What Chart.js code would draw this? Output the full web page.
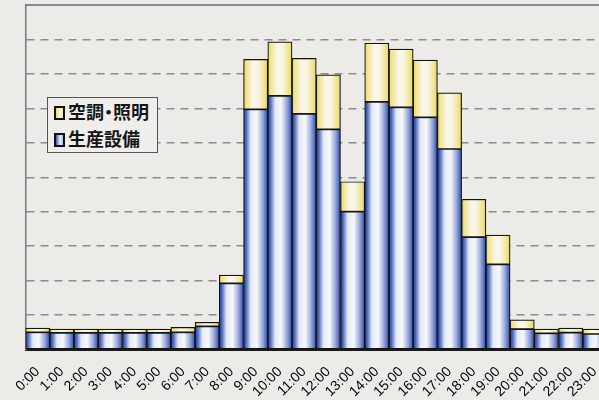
<!DOCTYPE html>
<html>
<head>
<meta charset="utf-8">
<script src="https://cdn.jsdelivr.net/npm/chart.js@4"></script>
<style>
    html, body { margin: 0; padding: 0; overflow: hidden; background: #ecebe7; }
    #wrap { position: relative; width: 607px; height: 400px; }
    #legend {
        position: absolute; left: 47px; top: 97px; width: 103px; height: 54px;
        background: #efeeea; border: 1.5px solid #555;
        font-family: "Noto Sans CJK JP", sans-serif; font-size: 18px; font-weight: bold;
        color: #151515; line-height: 27px; padding-left: 6px;
    }
    #legend .row { height: 27px; white-space: nowrap; }
    #legend .dot { display: inline-block; width: 9px; overflow: hidden; text-indent: -4.5px; vertical-align: top; }
    #legend .sw {
        display: inline-block; width: 7px; height: 10px; border: 2px solid #111;
        margin-right: 3px; vertical-align: -1px;
    }
</style>
</head>
<body>
<div id="wrap">
    <canvas id="chart" width="607" height="400"></canvas>
    <div id="legend">
        <div class="row"><span class="sw" style="background: linear-gradient(90deg, #e8d860, #fbf8e4 60%, #f3eab0);"></span>空調<span class="dot">・</span>照明</div>
        <div class="row"><span class="sw" style="background: linear-gradient(90deg, #3a58b0, #f0f2fa 60%, #a8b6e0);"></span>生産設備</div>
    </div>
</div>
<script>
//Hours along the x axis
const hours = ["0:00", "1:00", "2:00", "3:00", "4:00", "5:00", "6:00", "7:00",
    "8:00", "9:00", "10:00", "11:00", "12:00", "13:00", "14:00", "15:00",
    "16:00", "17:00", "18:00", "19:00", "20:00", "21:00", "22:00", "23:00"
];

//Production equipment (bottom, blue)
const production = [0.50, 0.48, 0.48, 0.48, 0.48, 0.48, 0.50, 0.67, 1.92, 6.97, 7.36, 6.84,
    6.39, 4.00, 7.19, 7.03, 6.74, 5.82, 3.26, 2.47, 0.59, 0.47, 0.49, 0.45];

//Air conditioning / lighting (top, yellow)
const hvacLighting = [0.12, 0.11, 0.11, 0.11, 0.11, 0.11, 0.14, 0.12, 0.24, 1.45, 1.57, 1.61,
    1.58, 0.87, 1.70, 1.69, 1.66, 1.63, 1.10, 0.85, 0.27, 0.12, 0.13, 0.14];

const yMax = 10;

const blueStops = [[0, '#2244a4'], [0.1, '#4a66bc'], [0.3, '#e4e9f6'], [0.55, '#f8f8fa'], [0.8, '#93a4da'], [1, '#2c4aac']];
const yellowStops = [[0, '#e8d762'], [0.15, '#f2e79a'], [0.4, '#f9f7ea'], [0.6, '#f8f5e4'], [0.85, '#f1e594'], [1, '#e6d45e']];

//Horizontal gradient across each bar, like the shaded columns of the original
function barFill(stops) {
    return (c) => {
        const xs = c.chart.scales.x;
        if (!xs || c.dataIndex === undefined) return stops[3][1];
        const half = xs.width / hours.length / 2;
        const cx = xs.getPixelForValue(c.dataIndex);
        if (!isFinite(cx) || !isFinite(half) || half <= 0) return stops[3][1];
        const g = c.chart.ctx.createLinearGradient(cx - half, 0, cx + half, 0);
        stops.forEach(s => g.addColorStop(s[0], s[1]));
        return g;
    };
}

const chart = new Chart(
    document.getElementById('chart'),
    {
        type: 'bar',
        data: {
            labels: hours,
            datasets: [{
                label: '生産設備',
                data: production,
                backgroundColor: barFill(blueStops),
                borderColor: '#141414',
                borderWidth: 1.2,
                borderSkipped: false,
            }, {
                label: '空調・照明',
                data: hvacLighting,
                backgroundColor: barFill(yellowStops),
                borderColor: '#141414',
                borderWidth: 1.2,
                borderSkipped: false,
            }]
        },
        options: {
            responsive: false,
            animation: false,
            layout: { padding: 0 },
            datasets: {
                bar: { barPercentage: 1, categoryPercentage: 1 }
            },
            scales: {
                x: {
                    stacked: true,
                    grid: { display: false, drawTicks: false },
                    border: { color: '#1a1a1a', width: 2 },
                    ticks: {
                        color: '#000',
                        font: { family: 'Liberation Sans', size: 14 },
                        minRotation: 45,
                        maxRotation: 45,
                        padding: 14,
                        autoSkip: false,
                    },
                    afterFit: (scale) => {
                        scale.height = 50.5;
                        scale.paddingLeft = 0;
                        scale.paddingRight = 0;
                    }
                },
                top: {
                    type: 'linear',
                    position: 'top',
                    grid: { display: false, drawTicks: false },
                    ticks: { display: false },
                    border: { color: '#8a8a8a', width: 2 },
                    afterFit: (scale) => { scale.height = 5; }
                },
                y: {
                    stacked: true,
                    min: 0,
                    max: yMax,
                    ticks: { display: false, stepSize: 1 },
                    grid: { color: '#8c8c8c', lineWidth: 1.5, drawTicks: false },
                    border: { color: '#777', width: 1.5, dash: [8, 6] },
                    afterFit: (scale) => { scale.width = 25.5; }
                }
            },
            plugins: {
                legend: { display: false },
                tooltip: { enabled: false },
            },
        }
    }
);
chart.update();
</script>
</body>
</html>
